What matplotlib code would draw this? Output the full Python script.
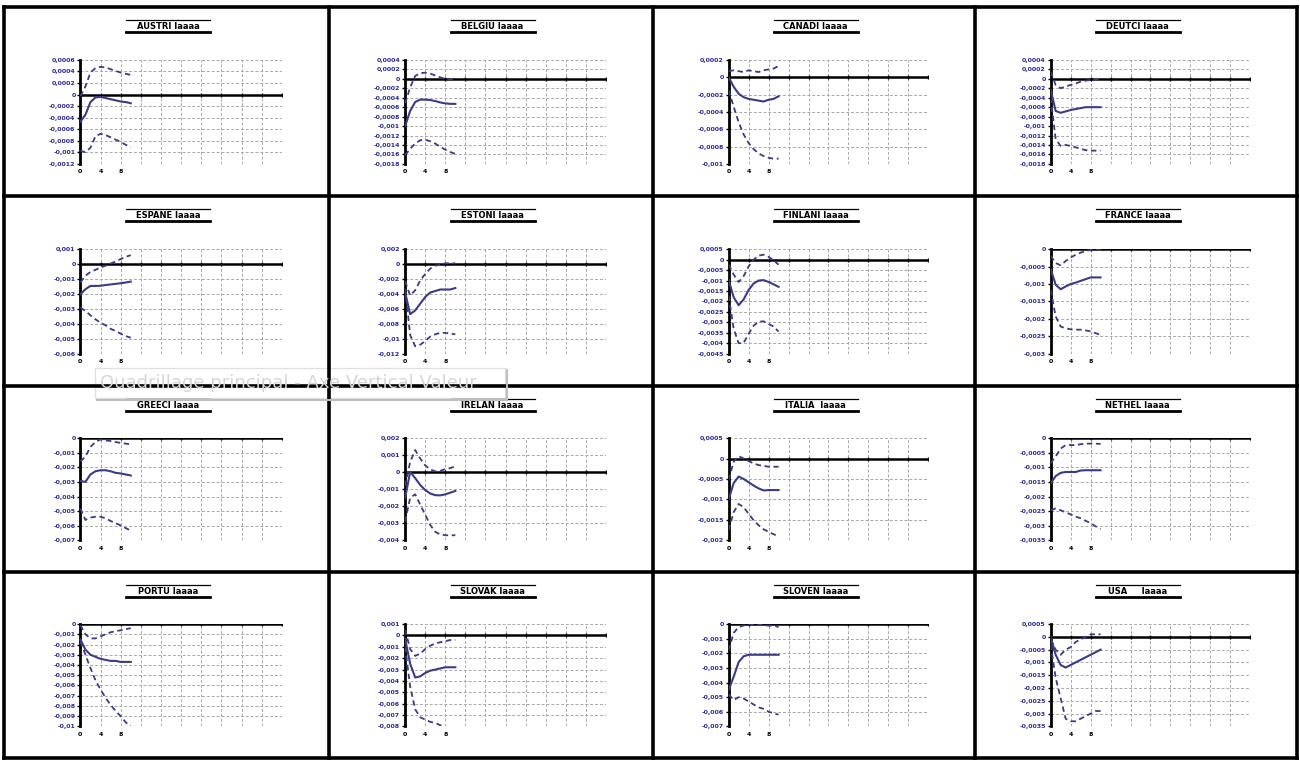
import matplotlib
matplotlib.use("Agg")
import matplotlib.pyplot as plt
from matplotlib.lines import Line2D
from matplotlib.patches import Rectangle

W, H = 1300, 760
periods = list(range(11))
x_ticks = list(range(0, 41, 4))
x_labels = ["0", "4", "8"]

titles = ["AUSTRI Iaaaa", "BELGIU Iaaaa", "CANADI Iaaaa", "DEUTCI Iaaaa",
          "ESPANE Iaaaa", "ESTONI Iaaaa", "FINLANI Iaaaa", "FRANCE Iaaaa",
          "GREECI Iaaaa", "IRELAN Iaaaa", "ITALIA  Iaaaa", "NETHEL Iaaaa",
          "PORTU Iaaaa", "SLOVAK Iaaaa", "SLOVEN Iaaaa", "USA     Iaaaa"]

# ---- data (response, upper band, lower band, y ticks) ----
austri_irf = [-0.00047, -0.00035, -0.00013, -0.00005, -0.00004, -0.00006, -0.00008, -0.0001, -0.00012, -0.00013, -0.00015]
austri_up = [-0.00003, 0.00014, 0.00038, 0.00046, 0.00048, 0.00047, 0.00044, 0.00041, 0.00038, 0.00036, 0.00034]
austri_lo = [-0.00097, -0.001, -0.00092, -0.00072, -0.00068, -0.0007, -0.00074, -0.00078, -0.00082, -0.00087, -0.00091]
austri_ticks = [0.0006, 0.0004, 0.0002, 0, -0.0002, -0.0004, -0.0006, -0.0008, -0.001, -0.0012]

belgiu_irf = [-0.001, -0.00068, -0.00049, -0.00044, -0.00044, -0.00045, -0.00047, -0.0005, -0.00052, -0.00053, -0.00053]
belgiu_up = [-0.00052, -0.00018, 0.00006, 0.00012, 0.00013, 0.00011, 0.00007, 0.00003, 0.0, -0.00001, -0.00001]
belgiu_lo = [-0.00162, -0.00148, -0.00137, -0.0013, -0.00129, -0.00132, -0.00137, -0.00144, -0.0015, -0.00155, -0.00159]
belgiu_ticks = [0.0004, 0.0002, 0, -0.0002, -0.0004, -0.0006, -0.0008, -0.001, -0.0012, -0.0014, -0.0016, -0.0018]

canadi_irf = [0.0, -0.00011, -0.00019, -0.00023, -0.00025, -0.00026, -0.00027, -0.00028, -0.00026, -0.00025, -0.00022]
canadi_up = [0.00007, 0.00008, 0.00007, 0.00006, 0.00008, 0.00007, 0.00006, 0.00008, 0.00009, 0.0001, 0.00013]
canadi_lo = [-0.00015, -0.00034, -0.00052, -0.00066, -0.00076, -0.00083, -0.00088, -0.00091, -0.00093, -0.00094, -0.00094]
canadi_ticks = [0.0002, 0, -0.0002, -0.0004, -0.0006, -0.0008, -0.001]

deutci_irf = [-0.00023, -0.00068, -0.00072, -0.00069, -0.00066, -0.00064, -0.00062, -0.0006, -0.0006, -0.0006, -0.0006]
deutci_up = [0.00015, -0.00013, -0.0002, -0.00016, -0.00013, -0.0001, -0.00006, -0.00004, -0.00002, -0.00001, 0.0]
deutci_lo = [-0.0004, -0.00128, -0.00142, -0.0014, -0.00142, -0.00145, -0.00148, -0.00151, -0.00152, -0.00152, -0.00152]
deutci_ticks = [0.0004, 0.0002, 0, -0.0002, -0.0004, -0.0006, -0.0008, -0.001, -0.0012, -0.0014, -0.0016, -0.0018]

espane_irf = [-0.00202, -0.00168, -0.00146, -0.00146, -0.00145, -0.0014, -0.00136, -0.00132, -0.00128, -0.00123, -0.00117]
espane_up = [-0.00123, -0.00078, -0.00052, -0.00038, -0.00022, -0.00011, 0.00004, 0.00018, 0.00034, 0.00049, 0.0006]
espane_lo = [-0.00291, -0.00314, -0.00343, -0.0037, -0.00392, -0.0041, -0.00433, -0.00448, -0.00466, -0.00482, -0.00493]
espane_ticks = [0.001, 0, -0.001, -0.002, -0.003, -0.004, -0.005, -0.006]

estoni_irf = [-0.0038, -0.0067, -0.0062, -0.0053, -0.0044, -0.0038, -0.0036, -0.0034, -0.0034, -0.0034, -0.0032]
estoni_up = [-0.0023, -0.0042, -0.0035, -0.0022, -0.0013, -0.0006, -0.0002, -0.0001, 0.0001, 0.00013, 0.0001]
estoni_lo = [-0.0033, -0.0095, -0.011, -0.0108, -0.0103, -0.0097, -0.0094, -0.0092, -0.0092, -0.0093, -0.0094]
estoni_ticks = [0.002, 0, -0.002, -0.004, -0.006, -0.008, -0.01, -0.012]

finlan_irf = [-0.00098, -0.0018, -0.00218, -0.0019, -0.00145, -0.00114, -0.001, -0.00098, -0.00107, -0.00118, -0.0013]
finlan_up = [-0.00024, -0.00071, -0.00107, -0.00079, -0.00032, 0.0, 0.00019, 0.00024, 0.00013, -0.00003, -0.00024]
finlan_lo = [-0.00174, -0.0033, -0.004, -0.00398, -0.00355, -0.00316, -0.00297, -0.00295, -0.00308, -0.0032, -0.00344]
finlan_ticks = [0.0005, 0, -0.0005, -0.001, -0.0015, -0.002, -0.0025, -0.003, -0.0035, -0.004, -0.0045]

france_irf = [-0.00057, -0.00102, -0.00115, -0.00107, -0.001, -0.00096, -0.00091, -0.00086, -0.00081, -0.00081, -0.00081]
france_up = [-0.00019, -0.0004, -0.00046, -0.00034, -0.00024, -0.00016, -0.0001, -0.00005, -0.00002, 0.0, 0.0]
france_lo = [-0.00117, -0.00193, -0.00222, -0.00227, -0.0023, -0.00231, -0.00231, -0.00233, -0.00236, -0.00241, -0.00246]
france_ticks = [0, -0.0005, -0.001, -0.0015, -0.002, -0.0025, -0.003]

greeci_irf = [-0.00293, -0.003, -0.00249, -0.00227, -0.0022, -0.0022, -0.00227, -0.00238, -0.00242, -0.00249, -0.00256]
greeci_up = [-0.0016, -0.00127, -0.0006, -0.00027, -0.00009, -0.00016, -0.0002, -0.00027, -0.00033, -0.00038, -0.00042]
greeci_lo = [-0.00482, -0.0056, -0.00544, -0.00538, -0.00538, -0.00549, -0.00567, -0.00582, -0.00598, -0.00616, -0.00633]
greeci_ticks = [0, -0.001, -0.002, -0.003, -0.004, -0.005, -0.006, -0.007]

irelan_irf = [-0.0015, 0.00002, -0.00035, -0.00075, -0.00105, -0.00125, -0.00135, -0.00136, -0.0013, -0.0012, -0.0011]
irelan_up = [-0.0008, 0.0006, 0.0013, 0.0008, 0.0004, 0.00016, 0.00005, 0.00008, 0.00018, 0.00024, 0.00034]
irelan_lo = [-0.0029, -0.0015, -0.0013, -0.0019, -0.0025, -0.0031, -0.0035, -0.00365, -0.0037, -0.0037, -0.0037]
irelan_ticks = [0.002, 0.001, 0, -0.001, -0.002, -0.003, -0.004]

italia_irf = [-0.001, -0.0006, -0.00044, -0.0005, -0.00058, -0.00066, -0.00073, -0.00078, -0.00077, -0.00077, -0.00077]
italia_up = [-0.00052, -0.00008, 0.00006, 0.0, -0.00006, -0.00012, -0.00016, -0.00018, -0.0002, -0.0002, -0.0002]
italia_lo = [-0.00175, -0.00131, -0.00111, -0.00119, -0.00135, -0.00151, -0.00163, -0.00173, -0.00179, -0.00185, -0.0019]
italia_ticks = [0.0005, 0, -0.0005, -0.001, -0.0015, -0.002]

nethel_irf = [-0.00155, -0.0013, -0.00119, -0.00116, -0.00116, -0.00116, -0.00111, -0.0011, -0.0011, -0.0011, -0.0011]
nethel_up = [-0.00086, -0.00063, -0.00036, -0.00024, -0.00024, -0.00024, -0.00021, -0.00019, -0.00019, -0.00019, -0.0002]
nethel_lo = [-0.00247, -0.00241, -0.00247, -0.00254, -0.00261, -0.00269, -0.00274, -0.00283, -0.00291, -0.00302, -0.00311]
nethel_ticks = [0, -0.0005, -0.001, -0.0015, -0.002, -0.0025, -0.003, -0.0035]

portu_irf = [-0.0015, -0.0025, -0.003, -0.0032, -0.0034, -0.0035, -0.0036, -0.0036, -0.0037, -0.0037, -0.0037]
portu_up = [-0.0001, -0.001, -0.0014, -0.0014, -0.0012, -0.001, -0.0008, -0.0007, -0.0006, -0.0005, -0.0004]
portu_lo = [-0.0017, -0.003, -0.0043, -0.0055, -0.0064, -0.0072, -0.0079, -0.0085, -0.009, -0.0096, -0.01]
portu_ticks = [0, -0.001, -0.002, -0.003, -0.004, -0.005, -0.006, -0.007, -0.008, -0.009, -0.01]

slovak_irf = [-0.0003, -0.0025, -0.0037, -0.0036, -0.0033, -0.0031, -0.003, -0.0029, -0.0028, -0.0028, -0.0028]
slovak_up = [0.0005, -0.0012, -0.0018, -0.0016, -0.0012, -0.0009, -0.0007, -0.0006, -0.0005, -0.0004, -0.0004]
slovak_lo = [-0.001, -0.0045, -0.0065, -0.0072, -0.0074, -0.0076, -0.0077, -0.0079, -0.0081, -0.0083, -0.0085]
slovak_ticks = [0.001, 0, -0.001, -0.002, -0.003, -0.004, -0.005, -0.006, -0.007, -0.008]

sloven_irf = [-0.0045, -0.0036, -0.0026, -0.0022, -0.0021, -0.0021, -0.0021, -0.0021, -0.0021, -0.0021, -0.0021]
sloven_up = [-0.0018, -0.0006, -0.0002, -0.0001, 0.0, 0.0, 0.0, -0.0001, -0.0001, -0.0001, -0.0002]
sloven_lo = [-0.0048, -0.0052, -0.005, -0.0051, -0.0053, -0.0055, -0.0057, -0.0058, -0.006, -0.0061, -0.0062]
sloven_ticks = [0, -0.001, -0.002, -0.003, -0.004, -0.005, -0.006, -0.007]

usa_irf = [0.0, -0.0007, -0.0011, -0.0012, -0.0011, -0.001, -0.0009, -0.0008, -0.0007, -0.0006, -0.0005]
usa_up = [-0.0001, -0.0005, -0.0007, -0.0005, -0.0004, -0.0002, -0.0001, 0.0, 0.0001, 0.0001, 0.0001]
usa_lo = [-0.0003, -0.0016, -0.0024, -0.0032, -0.0033, -0.0033, -0.0032, -0.0031, -0.003, -0.0029, -0.0029]
usa_ticks = [0.0005, 0, -0.0005, -0.001, -0.0015, -0.002, -0.0025, -0.003, -0.0035]

panels = [
    (austri_irf, austri_up, austri_lo, austri_ticks),
    (belgiu_irf, belgiu_up, belgiu_lo, belgiu_ticks),
    (canadi_irf, canadi_up, canadi_lo, canadi_ticks),
    (deutci_irf, deutci_up, deutci_lo, deutci_ticks),
    (espane_irf, espane_up, espane_lo, espane_ticks),
    (estoni_irf, estoni_up, estoni_lo, estoni_ticks),
    (finlan_irf, finlan_up, finlan_lo, finlan_ticks),
    (france_irf, france_up, france_lo, france_ticks),
    (greeci_irf, greeci_up, greeci_lo, greeci_ticks),
    (irelan_irf, irelan_up, irelan_lo, irelan_ticks),
    (italia_irf, italia_up, italia_lo, italia_ticks),
    (nethel_irf, nethel_up, nethel_lo, nethel_ticks),
    (portu_irf, portu_up, portu_lo, portu_ticks),
    (slovak_irf, slovak_up, slovak_lo, slovak_ticks),
    (sloven_irf, sloven_up, sloven_lo, sloven_ticks),
    (usa_irf, usa_up, usa_lo, usa_ticks),
]

col_edges = [4, 329, 653, 975, 1297]
row_edges = [7, 196, 386, 572, 758]

LINE = "#3b3b86"
LABEL = "#2b2b9a"
GRID = "#a8a8a8"


def fmt(v):
    if v == 0:
        return "0"
    s = ("%.4f" % v).rstrip("0")
    return s.replace(".", ",")


fig = plt.figure(figsize=(W / 100, H / 100), dpi=100)
fig.patch.set_facecolor("white")


def fx(px):
    return px / W


def fy(py):
    return 1 - py / H


for i, (irf, up, lo, ticks) in enumerate(panels):
    r, c = divmod(i, 4)
    x0, x1 = col_edges[c], col_edges[c + 1]
    y0, y1 = row_edges[r], row_edges[r + 1]
    pw, ph = x1 - x0, y1 - y0

    # plot area
    left = x0 + 0.235 * pw
    right = x0 + 0.855 * pw
    top = y0 + 0.28 * ph
    bot = y0 + 0.83 * ph
    ax = fig.add_axes([fx(left), fy(bot), fx(right - left), (bot - top) / H])
    ax.set_xlim(0, 40)
    ax.set_ylim(ticks[-1], ticks[0])
    ax.set_xticks(x_ticks)
    ax.set_xticklabels(x_labels + [""] * (len(x_ticks) - 3))
    ax.set_yticks(ticks)
    ax.set_yticklabels([fmt(t) for t in ticks])
    ax.grid(True, ls=(0, (3, 2)), color=GRID, lw=0.7)
    for s in ["top", "right", "bottom"]:
        ax.spines[s].set_visible(False)
    ax.spines["left"].set_linewidth(2.0)
    ax.spines["left"].set_color("black")
    ax.tick_params(axis="y", length=2, width=1, color="black", labelcolor=LABEL,
                   labelsize=4.5, pad=1.5)
    ax.tick_params(axis="x", length=0, labelcolor="black", labelsize=4.5, pad=4)
    for lab in ax.get_yticklabels() + ax.get_xticklabels():
        lab.set_fontweight("bold")
    cross = 0 if ticks[-1] <= 0 <= ticks[0] else ticks[0]
    ax.axhline(cross, color="black", lw=1.8, zorder=3)
    ax.plot(x_ticks, [cross] * len(x_ticks), ls="none", marker="|", ms=2.5,
            mew=1, color="black", zorder=3)
    ax.plot(periods, irf, color=LINE, lw=1.5, zorder=4)
    ax.plot(periods, up, color=LINE, lw=1.3, ls=(0, (3, 2)), zorder=4)
    ax.plot(periods, lo, color=LINE, lw=1.3, ls=(0, (3, 2)), zorder=4)

    # title with rules
    cx = x0 + 0.505 * pw
    ty = y0 + 0.105 * ph
    fig.text(fx(cx), fy(ty), titles[i], ha="center", va="center",
             fontsize=6, fontweight="bold", color="black")
    fig.add_artist(Line2D([fx(cx - 42), fx(cx + 42)], [fy(ty - 7)] * 2,
                          color="black", lw=0.9))
    fig.add_artist(Line2D([fx(cx - 42), fx(cx + 42)], [fy(ty + 5)] * 2,
                          color="black", lw=2.0))

# panel borders
for xe in col_edges:
    fig.add_artist(Line2D([fx(xe)] * 2, [fy(row_edges[0]), fy(row_edges[-1])],
                          color="black", lw=2.6))
for ye in row_edges:
    fig.add_artist(Line2D([fx(col_edges[0]), fx(col_edges[-1])], [fy(ye)] * 2,
                          color="black", lw=2.6))

# ghost tooltip
fig.add_artist(Rectangle((fx(95), fy(398)), fx(410), 30 / H, facecolor="white",
                         edgecolor="#c8c8c8", lw=1.0, alpha=0.55))
fig.add_artist(Line2D([fx(97), fx(507)], [fy(399.5)] * 2, color="#bdbdbd", lw=1.5))
fig.add_artist(Line2D([fx(506.5)] * 2, [fy(370), fy(399.5)], color="#bdbdbd", lw=1.5))
fig.text(fx(100), fy(383), "Quadrillage principal - Axe Vertical Valeur",
         fontsize=13, color="#d6d6d6", va="center", ha="left")

fig.savefig("out.png", dpi=100)
